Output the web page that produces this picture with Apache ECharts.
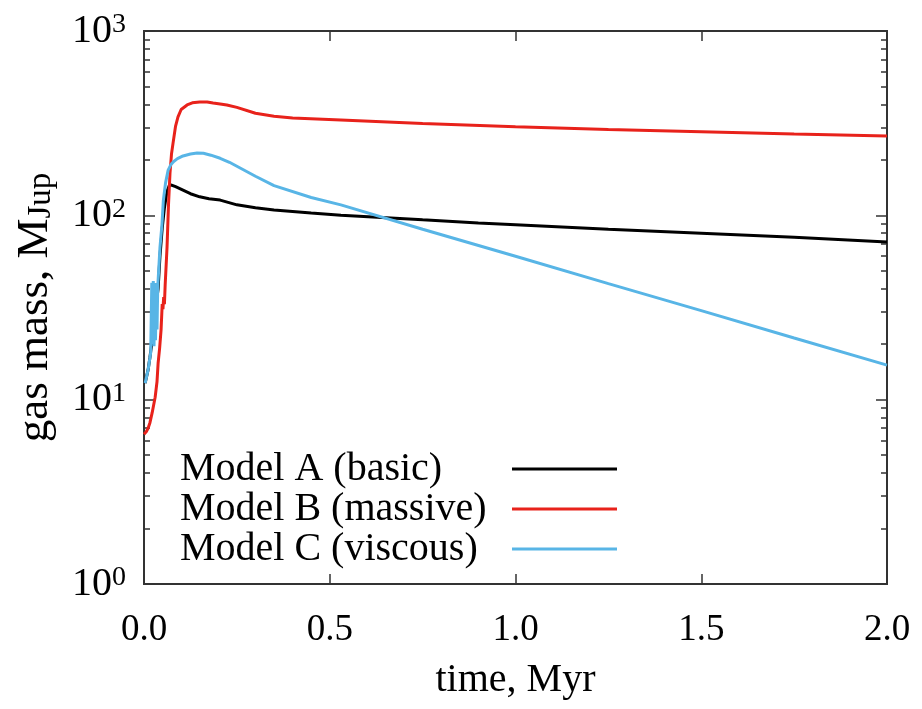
<!DOCTYPE html>
<html>
<head>
<meta charset="utf-8">
<script src="https://cdn.jsdelivr.net/npm/echarts@6/dist/echarts.min.js"></script>
<style>
	html, body { margin: 0; padding: 0; background: #ffffff; }
	#chart { width: 922px; height: 709px; }
</style>
</head>
<body>
<div id="chart"></div>
<script>
	//Model A (basic)
	var timeA = [0.003, 0.011, 0.016, 0.022, 0.03, 0.038, 0.043, 0.049, 0.055, 0.062, 0.068, 0.074, 0.078, 0.085, 0.095, 0.105, 0.125, 0.15, 0.175, 0.205, 0.25, 0.3, 0.35, 0.45, 0.53, 0.75, 0.9, 1.0, 1.25, 1.5, 1.75, 2.0];
	var massA = [12.3, 14.5, 17, 21, 30, 40, 60, 85, 110, 135, 145, 146, 143, 143, 140, 137, 131, 126, 123, 121, 114, 110, 107, 103, 100, 94.5, 91, 89, 84, 80, 76, 71.7];
	//Model B (massive)
	var timeB = [0.0, 0.006, 0.011, 0.016, 0.022, 0.03, 0.035, 0.038, 0.042, 0.046, 0.049, 0.051, 0.053, 0.055, 0.057, 0.062, 0.066, 0.07, 0.074, 0.078, 0.085, 0.0915, 0.1, 0.116, 0.13, 0.15, 0.17, 0.186, 0.205, 0.223, 0.25, 0.3, 0.35, 0.4, 0.53, 0.75, 1.0, 1.25, 1.5, 1.75, 2.0];
	var massB = [6.5, 6.7, 7.0, 7.5, 8.5, 10.3, 12.5, 15.8, 19, 24, 33, 31, 36, 33, 42, 67, 115, 170, 215, 245, 305, 342, 375, 397, 408, 412, 412, 407, 402, 397, 385, 358, 345, 337, 329, 315, 302, 292, 284, 276, 269];
	//Model C (viscous)
	var timeC = [0.003, 0.011, 0.018, 0.021, 0.023, 0.025, 0.027, 0.029, 0.031, 0.033, 0.035, 0.037, 0.039, 0.043, 0.0485, 0.052, 0.058, 0.065, 0.072, 0.08, 0.09, 0.105, 0.125, 0.143, 0.16, 0.18, 0.205, 0.23, 0.26, 0.3, 0.35, 0.45, 0.53, 0.75, 1.0, 1.25, 1.5, 1.75, 2.0];
	var massC = [12.3, 14.5, 18, 43, 20, 44, 19.5, 42, 21, 43, 24, 41, 40, 67, 90, 120, 150, 176, 188, 196, 203, 210, 215, 218, 217, 212, 204, 194, 180, 163, 145, 125, 114, 84, 60, 42.6, 30.4, 21.6, 15.4];

	var seriesNames = ["Model A (basic)", "Model B (massive)", "Model C (viscous)"];
	var seriesColors = ["#000000", "#e8221b", "#58b5e6"];
	//刻度
	var yMajorTicks = [1, 10, 100, 1000];
	var yMinorTicks = [2, 3, 4, 5, 6, 7, 8, 9, 20, 30, 40, 50, 60, 70, 80, 90, 200, 300, 400, 500, 600, 700, 800, 900];

	var fontFamily = "Liberation Serif, Times New Roman, serif";

	function toPairs(t, m) {
		var out = [];
		for (var i = 0; i < t.length; i++) {
			out.push([t[i], m[i]]);
		}
		return out;
	}

	var frameLine = { show: true, lineStyle: { color: "#333333", width: 2 } };

	function xAxisOpt(pos, showLabel) {
		return {
			type: "value",
			position: pos,
			min: 0,
			max: 2,
			interval: 0.5,
			axisLine: frameLine,
			axisTick: { inside: true, length: 10, lineStyle: { color: "#333333", width: 1.5 } },
			axisLabel: {
				show: showLabel,
				margin: 28,
				fontSize: 37,
				fontFamily: fontFamily,
				color: "#000000",
				formatter: function (v) {
					return v.toFixed(1);
				},
			},
			splitLine: { show: false },
		};
	}

	function yAxisOpt(pos, ticks, len, showLabel) {
		return {
			type: "log",
			logBase: 10,
			position: pos,
			min: 1,
			max: 1000,
			axisLine: frameLine,
			axisTick: { inside: true, length: len, customValues: ticks, lineStyle: { color: "#333333", width: 1.5 } },
			axisLabel: {
				show: showLabel,
				customValues: yMajorTicks,
				margin: 18,
				fontSize: 40,
				fontFamily: fontFamily,
				color: "#000000",
				formatter: function (v) {
					return "10{sup|" + Math.round(Math.log10(v)) + "}";
				},
				rich: {
					sup: { fontSize: 28, fontFamily: fontFamily, color: "#000000", verticalAlign: "top" },
				},
			},
			splitLine: { show: false },
		};
	}

	var xBottom = xAxisOpt("bottom", true);
	xBottom.name = "time, Myr";
	xBottom.nameLocation = "middle";
	xBottom.nameGap = 76;
	xBottom.nameTextStyle = { fontSize: 40, fontFamily: fontFamily, color: "#000000" };

	var yLeft = yAxisOpt("left", yMajorTicks, 11, true);
	yLeft.name = "gas mass, M{sub|Jup}";
	yLeft.nameLocation = "middle";
	yLeft.nameRotate = 90;
	yLeft.nameGap = 86;
	yLeft.nameTextStyle = {
		fontSize: 45,
		fontFamily: fontFamily,
		color: "#000000",
		rich: {
			sub: { fontSize: 33, fontFamily: fontFamily, color: "#000000", verticalAlign: "bottom" },
		},
	};

	var series = [];
	var allData = [toPairs(timeA, massA), toPairs(timeB, massB), toPairs(timeC, massC)];
	for (var i = 0; i < seriesNames.length; i++) {
		series.push({
			name: seriesNames[i],
			type: "line",
			xAxisIndex: 0,
			yAxisIndex: 0,
			symbol: "none",
			color: seriesColors[i],
			lineStyle: { width: 3, color: seriesColors[i] },
			data: allData[i],
		});
	}

	var chart = echarts.init(document.getElementById("chart"));
	chart.setOption({
		animation: false,
		backgroundColor: "#ffffff",
		grid: { left: 144, right: 35, top: 31, bottom: 125 },
		legend: {
			orient: "vertical",
			left: 175,
			top: 444,
			align: "right",
			icon: "rect",
			itemWidth: 105,
			itemHeight: 3,
			itemGap: 0,
			formatter: function (name) {
				return "{a|" + name + "}";
			},
			textStyle: {
				rich: {
					a: { width: 327, align: "left", fontSize: 40, fontFamily: fontFamily, color: "#000000", lineHeight: 36 },
				},
			},
			data: seriesNames,
		},
		xAxis: [xBottom, xAxisOpt("top", false)],
		yAxis: [
			yLeft,
			yAxisOpt("left", yMinorTicks, 6, false),
			yAxisOpt("right", yMajorTicks, 11, false),
			yAxisOpt("right", yMinorTicks, 6, false),
		],
		series: series,
	});
</script>
</body>
</html>
